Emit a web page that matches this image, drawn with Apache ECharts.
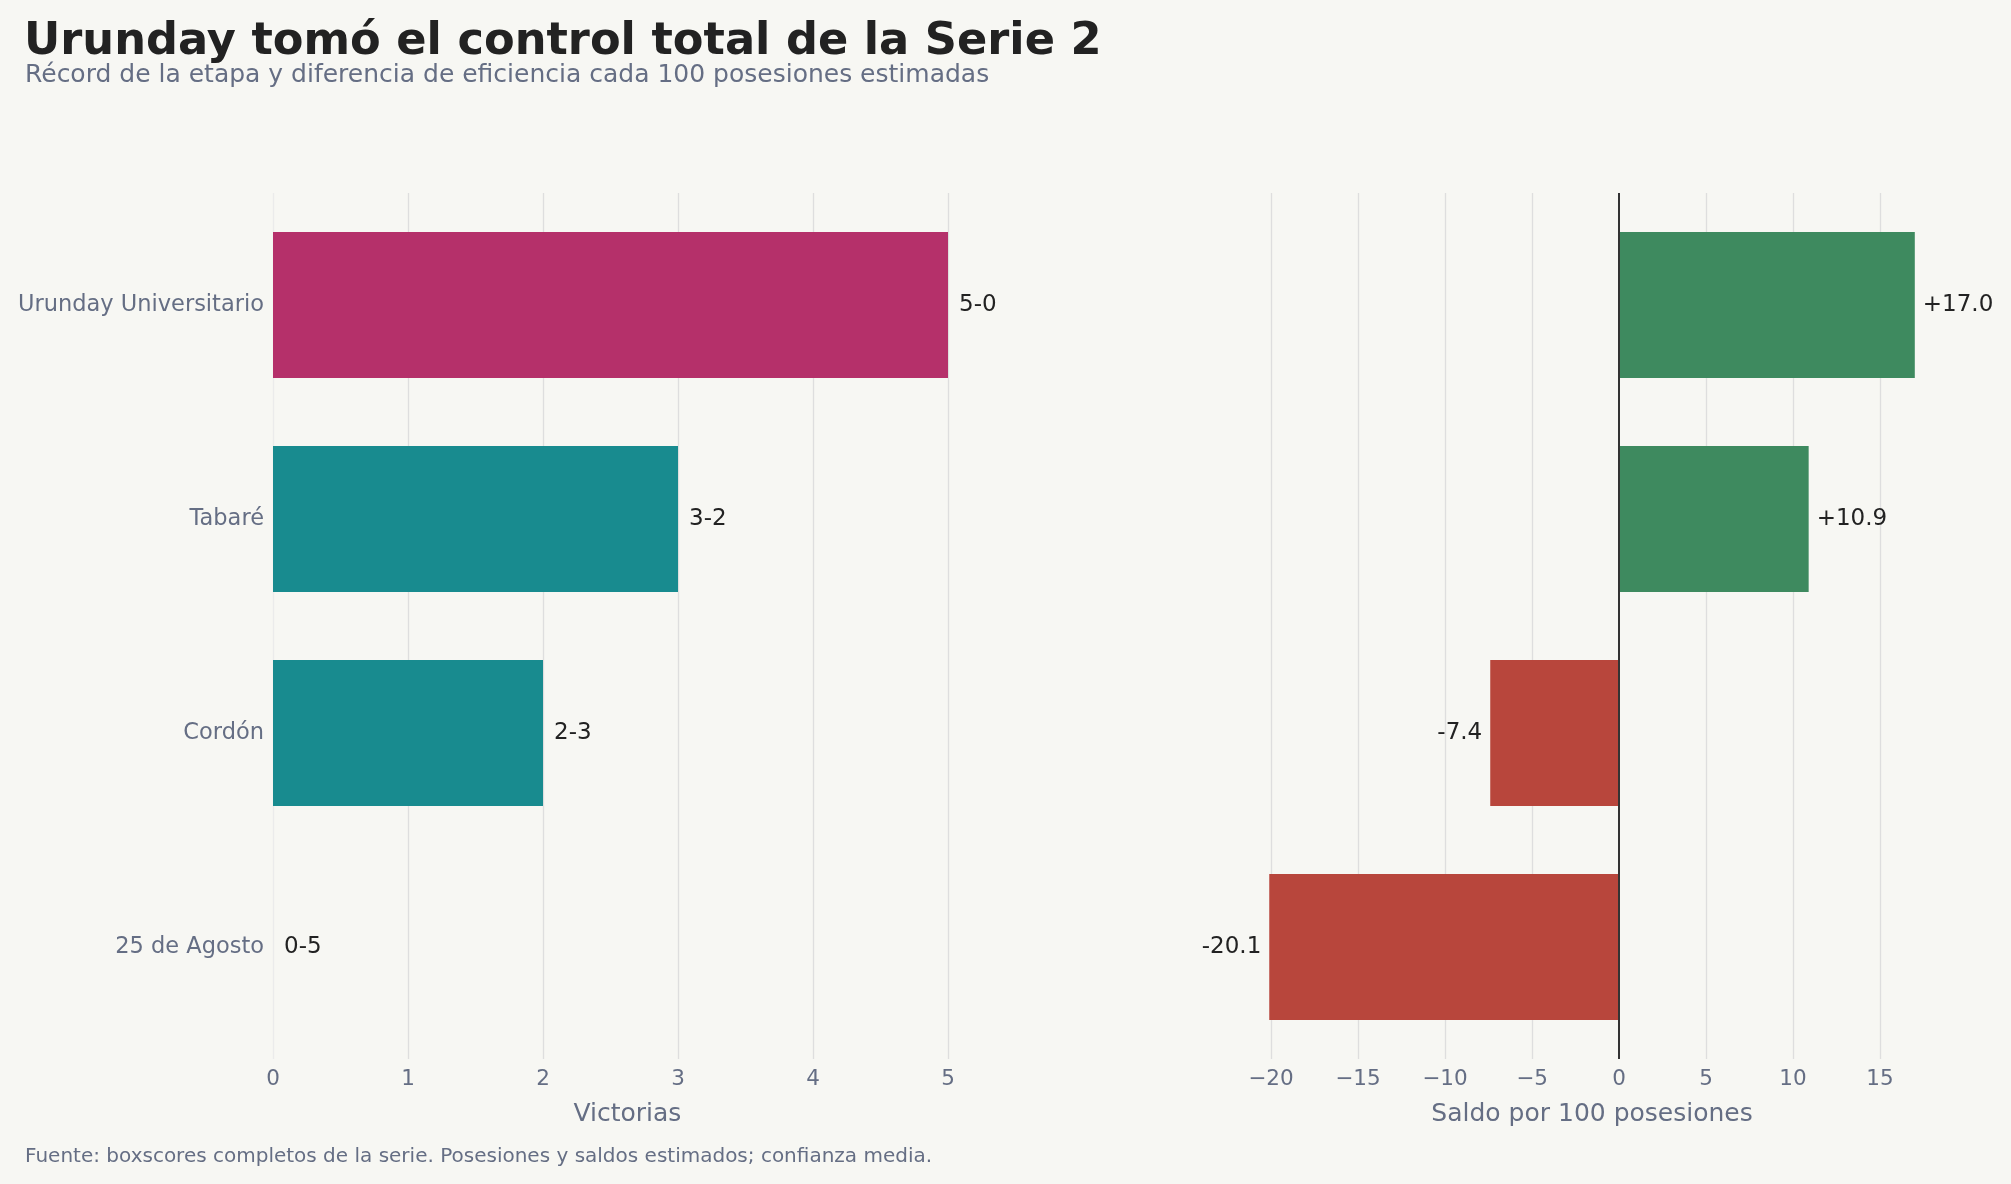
<!DOCTYPE html>
<html>
<head>
<meta charset="utf-8">
<script src="https://cdn.jsdelivr.net/npm/echarts@6/dist/echarts.min.js"></script>
<style>
html,body{margin:0;padding:0;background:#f7f7f3;}
#c{width:2011px;height:1184px;}
</style>
</head>
<body>
<div id="c"></div>
<script>
const teams = ['Urunday Universitario', 'Tabaré', 'Cordón', '25 de Agosto'];
const wins = [5, 3, 2, 0];
const losses = [0, 2, 3, 5];
const saldo = [17.0, 10.9, -7.4, -20.1];
const winTicks = [0, 1, 2, 3, 4, 5];
const saldoTicks = [-20, -15, -10, -5, 0, 5, 10, 15];

const FONT = 'DejaVu Sans';
const GRAY = '#656e84';
const GRID = '#dedede';
const leftColor = (i) => i === 0 ? '#b5306a' : '#188b8f';
const rightColor = (v) => v >= 0 ? '#3e8a5f' : '#b8463c';

const LMIN = 0, LMAX = 5.25;
const RMIN = -21.955, RMAX = 18.855;
const PX_L = 135, PX_R = 17.4;
const L0 = 273, R0 = 1619;

const chart = echarts.init(document.getElementById('c'), null, {renderer: 'canvas'});

const lineSeries = (ticks, xi, color, width, z) => ({
  type: 'line', xAxisIndex: xi, yAxisIndex: xi, data: [], silent: true, z: z,
  markLine: {
    silent: true, symbol: ['none', 'none'], z: z, animation: false,
    label: {show: false},
    lineStyle: {color: color, width: width, type: 'solid'},
    data: ticks.map(t => ({xAxis: t}))
  }
});

const hiddenX = (gi, min, max) => ({
  type: 'value', gridIndex: gi, min: min, max: max,
  axisLine: {show: false}, axisTick: {show: false}, splitLine: {show: false}, axisLabel: {show: false}
});
const hiddenYVal = (gi) => ({
  type: 'value', gridIndex: gi, min: 0, max: 1,
  axisLine: {show: false}, axisTick: {show: false}, splitLine: {show: false}, axisLabel: {show: false}
});

const lW = (LMAX - LMIN) * PX_L, rW = (RMAX - RMIN) * PX_R;
const lLeft = L0 + LMIN * PX_L, rLeft = R0 + RMIN * PX_R;

const option = {
  backgroundColor: '#f7f7f3',
  animation: false,
  textStyle: {fontFamily: FONT},
  title: [
    {text: 'Urunday tomó el control total de la Serie 2', left: 19, top: 15,
     textStyle: {fontFamily: FONT, fontSize: 44.7, fontWeight: 'bold', color: '#222222'}},
    {text: 'Récord de la etapa y diferencia de eficiencia cada 100 posesiones estimadas', left: 20, top: 58,
     textStyle: {fontFamily: FONT, fontSize: 25, fontWeight: 'normal', color: GRAY}},
    {text: 'Fuente: boxscores completos de la serie. Posesiones y saldos estimados; confianza media.', left: 20, top: 1142,
     textStyle: {fontFamily: FONT, fontSize: 20, fontWeight: 'normal', color: GRAY}}
  ],
  grid: [
    {left: lLeft, width: lW, top: 198, height: 856},
    {left: rLeft, width: rW, top: 198, height: 856},
    {left: lLeft, width: lW, top: 193, height: 866},
    {left: rLeft, width: rW, top: 193, height: 866}
  ],
  xAxis: [
    hiddenX(0, LMIN, LMAX),
    hiddenX(1, RMIN, RMAX),
    {type: 'value', gridIndex: 2, min: LMIN, max: LMAX,
     name: 'Victorias', nameLocation: 'middle', nameGap: 43,
     nameTextStyle: {fontFamily: FONT, fontSize: 25, color: GRAY},
     axisLine: {show: false}, axisTick: {show: false}, splitLine: {show: false},
     axisLabel: {customValues: winTicks, fontFamily: FONT, fontSize: 21.5, color: GRAY, margin: 9}},
    {type: 'value', gridIndex: 3, min: RMIN, max: RMAX,
     name: 'Saldo por 100 posesiones', nameLocation: 'middle', nameGap: 43,
     nameTextStyle: {fontFamily: FONT, fontSize: 25, color: GRAY},
     axisLine: {show: false}, axisTick: {show: false}, splitLine: {show: false},
     axisLabel: {customValues: saldoTicks, fontFamily: FONT, fontSize: 21.5, color: GRAY, margin: 9,
       formatter: (v) => v < 0 ? '\u2212' + Math.abs(v) : String(v)}}
  ],
  yAxis: [
    {type: 'category', gridIndex: 0, data: teams, inverse: true,
     axisLine: {show: false}, axisTick: {show: false}, splitLine: {show: false},
     axisLabel: {fontFamily: FONT, fontSize: 22.5, color: GRAY, margin: 9}},
    {type: 'category', gridIndex: 1, data: teams, inverse: true,
     axisLine: {show: false}, axisTick: {show: false}, splitLine: {show: false},
     axisLabel: {show: false}},
    hiddenYVal(2),
    hiddenYVal(3)
  ],
  series: [
    lineSeries([0], 2, '#ebebeb', 1.3, 1),
    lineSeries(winTicks.filter(t => t !== 0), 2, GRID, 1.3, 1),
    lineSeries(saldoTicks.filter(t => t !== 0), 3, GRID, 1.3, 1),
    {
      type: 'bar', xAxisIndex: 0, yAxisIndex: 0, z: 3, barWidth: 146,
      data: wins.map((w, i) => ({value: w, itemStyle: {color: leftColor(i)}})),
      label: {show: true, position: 'right', distance: 11, fontFamily: FONT, fontSize: 23, color: '#222222',
        formatter: (p) => wins[p.dataIndex] + '-' + losses[p.dataIndex]}
    },
    {
      type: 'bar', xAxisIndex: 1, yAxisIndex: 1, z: 3, barWidth: 146,
      data: saldo.map((v) => ({
        value: v, itemStyle: {color: rightColor(v)},
        label: {position: v >= 0 ? 'right' : 'left'}
      })),
      label: {show: true, distance: 8, fontFamily: FONT, fontSize: 23, color: '#222222',
        formatter: (p) => (p.value > 0 ? '+' : '') + p.value.toFixed(1)}
    },
    lineSeries([0], 3, '#333333', 2, 10)
  ]
};
chart.setOption(option);
</script>
</body>
</html>
